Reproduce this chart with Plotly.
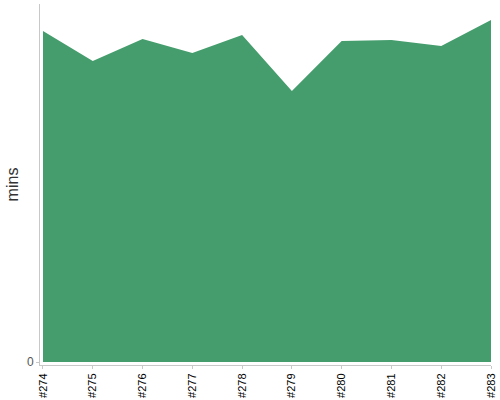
import plotly.graph_objects as go

# build labels and run durations (mins)
builds = ['#274', '#275', '#276', '#277', '#278', '#279', '#280', '#281', '#282', '#283']
mins = [33.1, 30.1, 32.3, 30.9, 32.7, 27.1, 32.1, 32.2, 31.6, 34.2]

x_pos = list(range(len(builds)))

fig = go.Figure()
fig.add_trace(go.Scatter(
    x=x_pos, y=mins,
    mode='lines', line=dict(width=0, color='#459d6d'),
    fill='tozeroy', fillcolor='#459d6d',
    hoverinfo='skip', showlegend=False,
))

fig.update_xaxes(
    range=[-0.06, 9], tickvals=x_pos, ticktext=builds, tickangle=-90,
    showgrid=False, zeroline=False, showline=True, linecolor='#c8c8c8', linewidth=1,
    ticks='outside', ticklen=3, tickcolor='#c8c8c8', automargin=False,
    tickfont=dict(family='Liberation Sans, Arial', size=11, color='#000'),
)
fig.update_yaxes(
    range=[-0.3, 35.8], tickvals=[0], ticktext=['0'],
    showgrid=False, zeroline=False, showline=True, linecolor='#c8c8c8', linewidth=1,
    ticks='outside', ticklen=3, tickcolor='#c8c8c8', automargin=False,
    tickfont=dict(family='Liberation Sans, Arial', size=12, color='#555'),
    title=dict(text='mins', font=dict(family='Liberation Sans, Arial', size=16, color='#333'), standoff=4),
)

fig.update_layout(
    width=500, height=400,
    margin=dict(l=40, r=9, t=4, b=35),
    plot_bgcolor='white', paper_bgcolor='white',
)
# drop the default page margin so the figure sits at the window corner
fig.write_html('out.html', config={'displayModeBar': False},
               post_script="document.body.style.margin='0';")
